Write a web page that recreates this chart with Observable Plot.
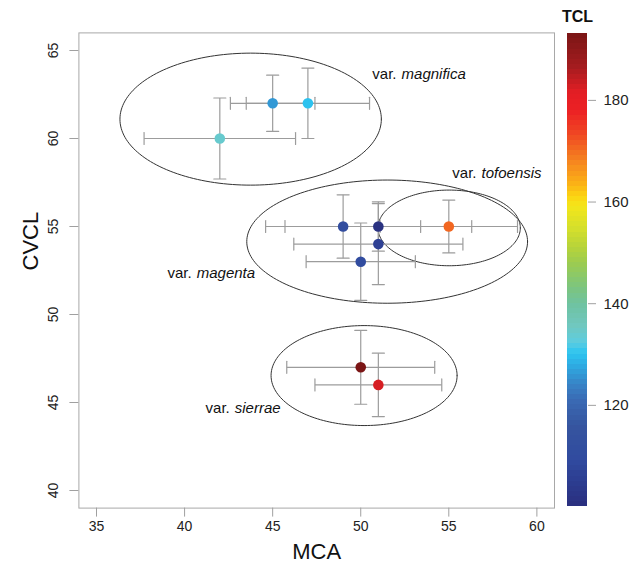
<!DOCTYPE html>
<html><head><meta charset="utf-8">
<script src="https://cdn.jsdelivr.net/npm/d3@7"></script>
<script src="https://cdn.jsdelivr.net/npm/@observablehq/plot@0.6"></script>
<style>
html,body{margin:0;padding:0;background:#fff;}
#wrap{position:relative;width:631px;height:569px;overflow:hidden;}
#wrap svg{position:absolute;left:0;top:0;}
</style></head><body><div id="wrap"></div>
<script>
// ---- data ----
const mca     = [45, 47, 42, 49, 51, 51, 50, 55, 50, 51];
const cvcl    = [62, 62, 60, 55, 55, 54, 53, 55, 47, 46];
const mcaErr  = [2.4, 3.5, 4.3, 4.4, 5.3, 4.8, 3.1, 3.9, 4.2, 3.6];
const cvclErr = [1.6, 2.0, 2.3, 1.8, 1.4, 2.3, 2.2, 1.5, 2.1, 1.8];
const tcl     = [126, 130, 134, 111, 101, 106, 110, 170.5, 193, 182.5];

const groupNames = ["magnifica", "tofoensis", "magenta", "sierrae"];
const ellCx = [43.75, 55.02, 51.5, 50.19];
const ellCy = [61.1, 54.92, 54.14, 46.53];
const ellRx = [7.42, 4.04, 7.97, 5.28];
const ellRy = [3.75, 2.15, 3.5, 2.84];
const labelX = [50.66, 55.2, 39.03, 41.19];
const labelY = [63.68, 58.03, 52.32, 44.68];

const xTicks = [35, 40, 45, 50, 55, 60];
const yTicks = [40, 45, 50, 55, 60, 65];
const cbTicks = [120, 140, 160, 180];

const cbStops = [100.1, 104, 109, 116, 121, 124.3, 127.5, 130.2, 132.2, 135.4, 140, 143.2, 148, 151, 155, 159, 161, 163.6, 166.8, 170.2, 173.5, 178, 181.4, 186.5, 193.1];
const cbColors = ["#2a2f7e", "#2c3a8d", "#304a9f", "#36559f", "#3a6bb5", "#3786c8", "#2ea8e0", "#2dc4f0", "#5ccde0", "#70c8c0", "#6fc2a0", "#7dc57d", "#9dcc4f", "#b6d33a", "#d7e02a", "#f3e61a", "#fcd412", "#fbb116", "#f7901e", "#f26a21", "#ef4523", "#ec2024", "#e31e24", "#a51c1f", "#7a1515"];

// ---- build tables ----
const pts = mca.map((x, i) => ({x, y: cvcl[i], xe: mcaErr[i], ye: cvclErr[i], tcl: tcl[i]}));
const hCaps = pts.flatMap(d => [{x: d.x - d.xe, y: d.y}, {x: d.x + d.xe, y: d.y}]);
const vCaps = pts.flatMap(d => [{x: d.x, y: d.y - d.ye}, {x: d.x, y: d.y + d.ye}]);
const ellPts = groupNames.flatMap((name, i) =>
  d3.range(0, 361, 2).map(a => ({name,
    x: ellCx[i] + ellRx[i] * Math.cos(a * Math.PI / 180),
    y: ellCy[i] + ellRy[i] * Math.sin(a * Math.PI / 180)})));
const labels = groupNames.map((name, i) => ({name, x: labelX[i], y: labelY[i]}));

const font = "'Liberation Sans', Arial, Helvetica, sans-serif";
const color = {type: "linear", domain: cbStops, range: cbColors, interpolate: "rgb", clamp: true};
const capShape = {draw(context, l) { context.moveTo(0, 0); context.lineTo(0, -l); }};
const barColor = "#9c9c9c";

const main = Plot.plot({
  width: 631, height: 569,
  marginLeft: 78.4, marginRight: 77, marginTop: 32.4, marginBottom: 61.4,
  x: {domain: [34, 61]},
  y: {domain: [39, 66]},
  color,
  style: {fontFamily: font, background: "transparent", color: "#222"},
  marks: [
    Plot.frame({stroke: "#a8a8a8"}),
    Plot.axisX({ticks: xTicks, tickSize: 9, tickPadding: 4, fontSize: 14, stroke: "#a0a0a0", fill: "#222", label: null}),
    Plot.axisY({ticks: yTicks, tickSize: 9, tickFormat: () => "", stroke: "#a0a0a0", label: null}),
    Plot.text(yTicks, {y: d => d, text: d => String(d), frameAnchor: "left", dx: -21, rotate: -90, textAnchor: "middle", lineAnchor: "bottom", fontSize: 14, fill: "#222"}),
    Plot.text(["MCA"], {frameAnchor: "bottom", dy: 50.4, lineAnchor: "bottom", fontSize: 22, fill: "#111"}),
    Plot.text(["CVCL"], {frameAnchor: "left", dx: -48.4, rotate: -90, lineAnchor: "middle", fontSize: 22, fill: "#111"}),
    Plot.line(ellPts, {x: "x", y: "y", z: "name", stroke: "#333", strokeWidth: 1}),
    Plot.link(pts, {x1: d => d.x - d.xe, x2: d => d.x + d.xe, y1: "y", y2: "y", stroke: barColor, strokeWidth: 1.2}),
    Plot.link(pts, {x1: "x", x2: "x", y1: d => d.y - d.ye, y2: d => d.y + d.ye, stroke: barColor, strokeWidth: 1.2}),
    Plot.vector(hCaps, {x: "x", y: "y", length: 12, rotate: 0, anchor: "middle", shape: capShape, stroke: barColor, strokeWidth: 1.2}),
    Plot.vector(vCaps, {x: "x", y: "y", length: 12, rotate: 90, anchor: "middle", shape: capShape, stroke: barColor, strokeWidth: 1.2}),
    Plot.dot(pts, {x: "x", y: "y", r: 5.3, fill: "tcl", stroke: null}),
    Plot.text(labels, {x: "x", y: "y", text: () => "var.", textAnchor: "start", fontSize: 15, fill: "#111"}),
    Plot.text(labels, {x: "x", y: "y", text: "name", dx: 29.2, textAnchor: "start", fontSize: 15, fontStyle: "italic", fill: "#111"})
  ]
});

const cbLo = cbStops[0], cbHi = cbStops[cbStops.length - 1];
const strips = d3.range(cbLo, cbHi, 1).map(v => ({v0: v, v1: Math.min(v + 1.05, cbHi), v: v + 0.5}));
const cb = Plot.plot({
  width: 631, height: 569,
  marginLeft: 567, marginRight: 44, marginTop: 33.3, marginBottom: 63,
  x: {domain: [0, 1], axis: null},
  y: {domain: [cbLo, cbHi], axis: null},
  color,
  style: {fontFamily: font, background: "transparent", color: "#222"},
  marks: [
    Plot.rect(strips, {x1: () => 0, x2: () => 1, y1: "v0", y2: "v1", fill: "v", shapeRendering: "crispEdges"}),
    Plot.axisY({anchor: "right", ticks: cbTicks, tickSize: 8, tickPadding: 8, fontSize: 15, stroke: "#a0a0a0", fill: "#222", label: null}),
    Plot.text(["TCL"], {frameAnchor: "top", dy: -12.3, lineAnchor: "bottom", fontSize: 16, fontWeight: "bold", fill: "#111"})
  ]
});

const wrap = document.getElementById("wrap");
wrap.appendChild(main);
wrap.appendChild(cb);
</script>
</body></html>
